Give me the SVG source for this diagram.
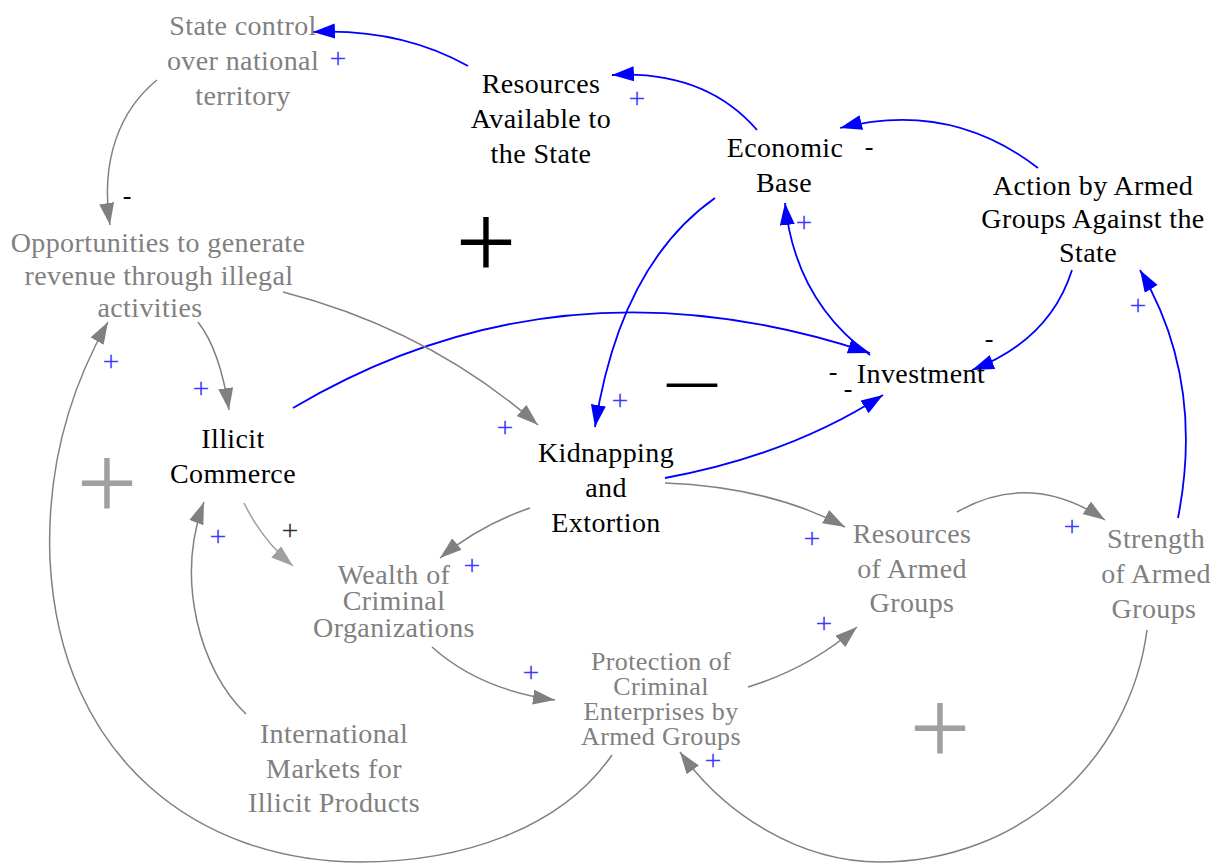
<svg xmlns="http://www.w3.org/2000/svg" width="1214" height="865" viewBox="0 0 1214 865" font-family="'Liberation Serif', 'Times New Roman', Times, serif">
  <defs>
    <marker id="ahBlue" markerUnits="userSpaceOnUse" markerWidth="24" markerHeight="16" refX="22" refY="7.5" orient="auto">
      <path d="M0,0 L22,7.5 L0,15 z" fill="#0000ff"/>
    </marker>
    <marker id="ahGray" markerUnits="userSpaceOnUse" markerWidth="24" markerHeight="16" refX="22" refY="7.5" orient="auto">
      <path d="M0,0 L22,7.5 L0,15 z" fill="#808080"/>
    </marker>
    <marker id="ahLight" markerUnits="userSpaceOnUse" markerWidth="24" markerHeight="16" refX="22" refY="7.5" orient="auto">
      <path d="M0,0 L22,7.5 L0,15 z" fill="#a0a0a0"/>
    </marker>
  </defs>
  <style>
    .node { font-size: 28px; letter-spacing: 0.4px; text-anchor: middle; }
    .tight { font-size: 26px; letter-spacing: 0.4px; }
    .dark { fill: #000000; }
    .grey { fill: #808080; }
    .blue { fill: none; stroke: #0000ff; stroke-width: 1.8; marker-end: url(#ahBlue); }
    .gray { fill: none; stroke: #808080; stroke-width: 1.5; marker-end: url(#ahGray); }
    .light { fill: none; stroke: #a0a0a0; stroke-width: 1.5; marker-end: url(#ahLight); }
    .pol { font-size: 30px; text-anchor: middle; }
    .neg { font-size: 26px; text-anchor: middle; fill: #000000; }
    .pp { fill: #3c3cff; }
    .loop { text-anchor: middle; }
  </style>

  <!-- causal links -->
  <g id="connectors">
    <path class="blue" d="M468,66 Q400,28 313,32"/>
    <path class="blue" d="M757,130 Q705,70 612,75"/>
    <path class="blue" d="M1038,168 Q950,100 840,128"/>
    <path class="blue" d="M715,198 Q620,265 595,427"/>
    <path class="blue" d="M870,355 Q795,300 785,203"/>
    <path class="blue" d="M1072,270 Q1050,340 972,370"/>
    <path class="blue" d="M293,408 Q560,250 870,353"/>
    <path class="blue" d="M665,478 Q790,455 883,395"/>
    <path class="blue" d="M1178,518 Q1205,380 1140,270"/>
    <path class="gray" d="M157,80 C120,110 100,160 110,225"/>
    <path class="gray" d="M198,322 Q220,350 229,410"/>
    <path class="gray" d="M283,292 Q430,330 538,425"/>
    <path class="light" d="M244,503 Q262,540 293,566"/>
    <path class="gray" d="M530,508 Q480,525 440,558"/>
    <path class="gray" d="M665,483 Q770,487 845,527"/>
    <path class="gray" d="M957,512 Q1030,470 1105,520"/>
    <path class="gray" d="M432,647 Q480,690 555,700"/>
    <path class="gray" d="M748,687 Q810,668 857,627"/>
    <path class="gray" d="M1147,630 C1130,760 1020,862 880,862 C800,862 725,815 680,752"/>
    <path class="gray" d="M612,755 C560,830 460,862 360,862 C200,862 60,760 50,560 C46,460 75,380 108,322"/>
    <path class="gray" d="M246,714 C200,670 175,580 204,502"/>
  </g>

  <!-- link polarities -->
  <g id="polarities">
    <text class="pol pp" x="338" y="68">+</text>
    <text class="pol pp" x="637" y="108">+</text>
    <text class="neg" x="869" y="155">-</text>
    <text class="pol pp" x="804" y="232">+</text>
    <text class="pol pp" x="620" y="410">+</text>
    <text class="neg" x="989" y="347">-</text>
    <text class="neg" x="833" y="380">-</text>
    <text class="neg" x="848" y="397">-</text>
    <text class="neg" x="127" y="204">-</text>
    <text class="pol pp" x="111" y="371">+</text>
    <text class="pol pp" x="201" y="398">+</text>
    <text class="pol pp" x="505" y="437">+</text>
    <text class="pol" x="290" y="540" fill="#333333">+</text>
    <text class="pol pp" x="218" y="546">+</text>
    <text class="pol pp" x="472" y="575">+</text>
    <text class="pol pp" x="812" y="548">+</text>
    <text class="pol pp" x="1072" y="536">+</text>
    <text class="pol pp" x="1138" y="315">+</text>
    <text class="pol pp" x="531" y="682">+</text>
    <text class="pol pp" x="824" y="633">+</text>
    <text class="pol pp" x="713" y="770">+</text>
  </g>

  <!-- loop markers -->
  <g id="loops">
    <text class="loop" x="486" y="278" font-size="108" fill="#000000">+</text>
    <text class="loop" x="692" y="397" font-size="50" font-weight="bold" fill="#000000">—</text>
    <text class="loop" x="107" y="519" font-size="108" fill="#a0a0a0">+</text>
    <text class="loop" x="940" y="764" font-size="108" fill="#a0a0a0">+</text>
  </g>

  <!-- variables -->
  <g id="state-control">
    <text class="node grey" x="243" y="35">State control</text>
    <text class="node grey" x="243" y="70">over national</text>
    <text class="node grey" x="243" y="105">territory</text>
  </g>
  <g id="resources-state">
    <text class="node dark" x="541" y="93">Resources</text>
    <text class="node dark" x="541" y="128">Available to</text>
    <text class="node dark" x="541" y="163">the State</text>
  </g>
  <g id="economic-base">
    <text class="node dark" x="785" y="157">Economic</text>
    <text class="node dark" x="784" y="192">Base</text>
  </g>
  <g id="action-armed">
    <text class="node dark" x="1093" y="195">Action by Armed</text>
    <text class="node dark" x="1093" y="228">Groups Against the</text>
    <text class="node dark" x="1088" y="262">State</text>
  </g>
  <g id="investment">
    <text class="node dark" x="921" y="383">Investment</text>
  </g>
  <g id="opportunities">
    <text class="node grey" x="158" y="252">Opportunities to generate</text>
    <text class="node grey" x="159" y="285">revenue through illegal</text>
    <text class="node grey" x="150" y="317">activities</text>
  </g>
  <g id="illicit-commerce">
    <text class="node dark" x="233" y="448">Illicit</text>
    <text class="node dark" x="233" y="483">Commerce</text>
  </g>
  <g id="kidnapping">
    <text class="node dark" x="606" y="462">Kidnapping</text>
    <text class="node dark" x="606" y="497">and</text>
    <text class="node dark" x="606" y="532">Extortion</text>
  </g>
  <g id="wealth">
    <text class="node grey" x="394" y="584">Wealth of</text>
    <text class="node grey" x="394" y="610">Criminal</text>
    <text class="node grey" x="394" y="637">Organizations</text>
  </g>
  <g id="resources-armed">
    <text class="node grey" x="912" y="543">Resources</text>
    <text class="node grey" x="912" y="578">of Armed</text>
    <text class="node grey" x="912" y="612">Groups</text>
  </g>
  <g id="strength-armed">
    <text class="node grey" x="1156" y="548">Strength</text>
    <text class="node grey" x="1156" y="583">of Armed</text>
    <text class="node grey" x="1154" y="618">Groups</text>
  </g>
  <g id="protection">
    <text class="node grey tight" x="661" y="670">Protection of</text>
    <text class="node grey tight" x="661" y="695">Criminal</text>
    <text class="node grey tight" x="661" y="720">Enterprises by</text>
    <text class="node grey tight" x="661" y="745">Armed Groups</text>
  </g>
  <g id="international-markets">
    <text class="node grey" x="334" y="743">International</text>
    <text class="node grey" x="334" y="778">Markets for</text>
    <text class="node grey" x="334" y="812">Illicit Products</text>
  </g>
</svg>
